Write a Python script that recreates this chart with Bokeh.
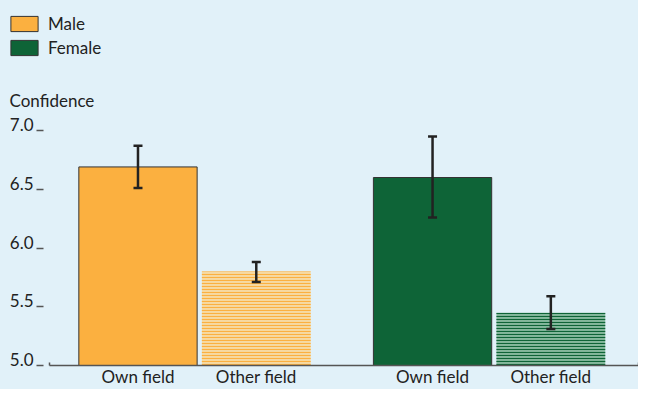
from bokeh.plotting import figure
from bokeh.layouts import column
from bokeh.models import (Range1d, FixedTicker, Legend, LegendItem, Label,
                          Whisker, ColumnDataSource, TeeHead)
from bokeh.embed import file_html
from bokeh.resources import INLINE

# ---- data ----
groups = ["Male", "Female"]
fields = ["Own field", "Other field"]
male_values = [6.69, 5.80]
male_lower = [6.51, 5.71]
male_upper = [6.87, 5.88]
female_values = [6.60, 5.45]
female_lower = [6.26, 5.31]
female_upper = [6.95, 5.59]
y_ticks = [5.0, 5.5, 6.0, 6.5, 7.0]
y_tick_labels = ["5.0", "5.5", "6.0", "6.5", "7.0"]
y_title = "Confidence"

# ---- style ----
BG = "#E1F1F9"
ORANGE = "#FBB040"
GREEN = "#0E6437"
LIGHT_ORANGE = "#F6D9A2"
LIGHT_GREEN = "#84B89C"
INK = "#222222"
AXIS = "#555555"
FONT = "Lato"
FS = "17px"
W = 638
HEADER_H = 110
MAIN_H = 279
group_step = 2.49
bar_widths = [1.0, 0.92]
x_start, x_end = -0.748, 4.231
y_start, y_end = y_ticks[0], y_ticks[-1]

values = [male_values, female_values]
lowers = [male_lower, female_lower]
uppers = [male_upper, female_upper]
colors = [ORANGE, GREEN]
light_colors = [LIGHT_ORANGE, LIGHT_GREEN]

rows = dict(x=[], top=[], lower=[], upper=[], width=[], fill=[], hcolor=[],
            hatch=[], line_alpha=[], label=[])
for g, grp in enumerate(groups):
    for m, fld in enumerate(fields):
        rows["x"].append(g * group_step + m)
        rows["top"].append(values[g][m])
        rows["lower"].append(lowers[g][m])
        rows["upper"].append(uppers[g][m])
        rows["width"].append(bar_widths[m])
        rows["fill"].append(colors[g] if m == 0 else light_colors[g])
        rows["hcolor"].append(colors[g])
        rows["hatch"].append(" " if m == 0 else "-")
        rows["line_alpha"].append(1.0 if m == 0 else 0.0)
        rows["label"].append(fld)
src = ColumnDataSource(rows)

# ---- main chart ----
p = figure(width=W, height=MAIN_H, output_backend="svg", toolbar_location=None,
           x_range=Range1d(x_start, x_end), y_range=Range1d(y_start, y_end),
           min_border_left=49, min_border_right=0, min_border_top=20,
           min_border_bottom=20, background_fill_color=BG, border_fill_color=BG,
           outline_line_color=None, frame_align=False)
p.grid.visible = False

r = p.vbar(x="x", top="top", bottom=y_start, width="width", source=src,
           fill_color="fill", hatch_pattern="hatch",
           hatch_color="hcolor", hatch_scale=3, hatch_weight=1.1, hatch_alpha=1.0,
           line_color="#333333", line_alpha="line_alpha", line_width=1)

wh = Whisker(source=src, base="x", upper="upper", lower="lower",
             line_color=INK, line_width=2.5, level="overlay",
             upper_head=TeeHead(size=9, line_color=INK, line_width=2.5),
             lower_head=TeeHead(size=9, line_color=INK, line_width=2.5))
p.add_layout(wh)

ya = p.yaxis[0]
ya.ticker = FixedTicker(ticks=y_ticks, minor_ticks=[])
# trailing line break lifts each label so its baseline sits on the tick
ya.major_label_overrides = {t: l + "\n" for t, l in zip(y_ticks, y_tick_labels)}
ya.major_label_text_line_height = 0.55
ya.axis_line_color = None
ya.major_tick_in = -6
ya.major_tick_out = 13
ya.major_tick_line_color = AXIS
ya.major_tick_line_width = 1.5
ya.minor_tick_line_color = None
ya.major_label_standoff = 3
ya.major_label_text_font = FONT
ya.major_label_text_font_size = FS
ya.major_label_text_color = INK

xa = p.xaxis[0]
xa.ticker = FixedTicker(ticks=rows["x"], minor_ticks=[x_start, x_end])
xa.major_label_overrides = {t: l for t, l in zip(rows["x"], rows["label"])}
xa.major_tick_line_color = None
xa.major_tick_out = 0
xa.minor_tick_in = 3
xa.minor_tick_out = 0
xa.minor_tick_line_color = AXIS
xa.minor_tick_line_width = 1.5
xa.axis_line_color = AXIS
xa.axis_line_width = 1.5
xa.major_label_standoff = 0
xa.major_label_text_font = FONT
xa.major_label_text_font_size = FS
xa.major_label_text_color = INK

# ---- header: legend + axis title ----
h = figure(width=W, height=HEADER_H, output_backend="svg", toolbar_location=None,
           x_range=Range1d(0, W), y_range=Range1d(0, HEADER_H),
           x_axis_location=None, y_axis_location=None,
           min_border=0, background_fill_color=BG, border_fill_color=BG,
           outline_line_color=None, frame_align=False)
h.grid.visible = False
leg_src = ColumnDataSource(dict(x=[float("nan")] * 2, top=[float("nan")] * 2,
                                fill=colors))
lr = h.vbar(x="x", top="top", bottom=0, width=1, source=leg_src,
            fill_color="fill", line_color="#333333", line_width=1)
legend = Legend(items=[LegendItem(label=groups[0], renderers=[lr], index=0),
                       LegendItem(label=groups[1], renderers=[lr], index=1)],
                location=(7, 52), glyph_width=34, glyph_height=19,
                label_height=19, label_standoff=7, spacing=3, padding=0,
                margin=0, background_fill_alpha=0, border_line_color=None,
                label_text_font=FONT, label_text_font_size=FS,
                label_text_color=INK)
h.add_layout(legend)
h.add_layout(Label(x=9, y=10, text=y_title, text_font=FONT, text_font_size=FS,
                   text_color=INK, text_baseline="alphabetic"))

layout = column(h, p, spacing=0, styles={"background-color": BG})
open("out.html", "w").write(file_html(layout, INLINE))
